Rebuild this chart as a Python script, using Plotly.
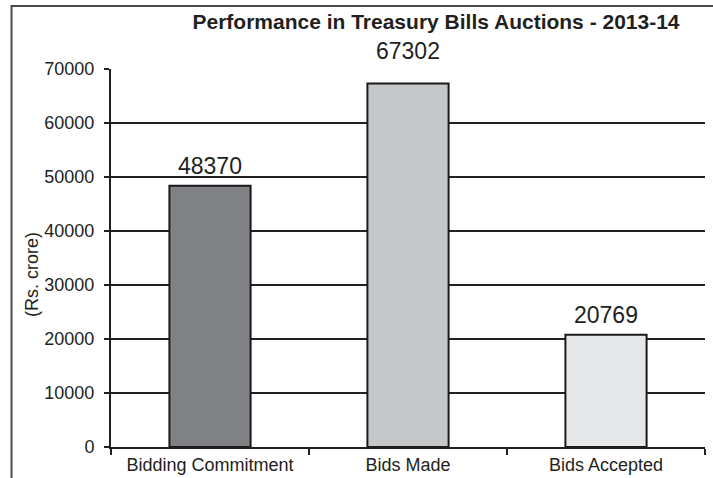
import plotly.graph_objects as go

categories = ["Bidding Commitment", "Bids Made", "Bids Accepted"]
values = [48370, 67302, 20769]
bar_colors = ["#808184", "#c6c7c9", "#e6e7e8"]
y_ticks = [0, 10000, 20000, 30000, 40000, 50000, 60000, 70000]
title_text = "Performance in Treasury Bills Auctions - 2013-14"
y_title = "(Rs. crore)"
label_shifts = [5, 18, 5]

FONT = "Liberation Sans, Arial, sans-serif"

W, H = 713, 478
L, R, T, B = 111, 705, 69, 447  # plot box in page px
PW, PH = R - L, B - T

def px_x(x):
    return (x - L) / PW

def px_y(y):
    return (B - y) / PH

fig = go.Figure()
fig.add_trace(go.Bar(
    x=categories, y=values,
    marker=dict(color=bar_colors, line=dict(color="#1a1a1a", width=2)),
    width=0.41,
    hoverinfo="x+y",
))

for c, v, s in zip(categories, values, label_shifts):
    fig.add_annotation(x=c, y=v, text=str(v), showarrow=False,
                       yanchor="bottom", yshift=s,
                       font=dict(family=FONT, size=23, color="#231f20"))

fig.add_annotation(xref="paper", yref="paper", x=px_x(32), y=px_y(275),
                   xanchor="center", yanchor="middle",
                   text=y_title, textangle=-90, showarrow=False,
                   font=dict(family=FONT, size=18, color="#231f20"))

# outer frame: left and top edges (cut off at right and bottom like reference)
frame_line = dict(color="#4a4a4a", width=2)
fig.add_shape(type="line", xref="paper", yref="paper",
              x0=px_x(11), y0=px_y(6), x1=px_x(713), y1=px_y(6),
              line=frame_line, layer="above")
fig.add_shape(type="line", xref="paper", yref="paper",
              x0=px_x(11.5), y0=px_y(5), x1=px_x(11.5), y1=px_y(478),
              line=frame_line, layer="above")

fig.update_layout(
    width=W, height=H,
    margin=dict(l=L, r=W - R, t=T, b=H - B, autoexpand=False),
    paper_bgcolor="white", plot_bgcolor="white",
    showlegend=False,
    title=dict(text="<b>" + title_text + "</b>", xref="container", yref="container",
               x=436 / W, y=1 - 22 / H, xanchor="center", yanchor="middle",
               font=dict(family=FONT, size=21, color="#231f20")),
    font=dict(family=FONT, color="#231f20"),
)
fig.update_xaxes(
    type="category", showline=True, linecolor="#231f20", linewidth=2,
    ticks="outside", tickson="boundaries", ticklen=6, tickwidth=2, tickcolor="#231f20",
    tickfont=dict(family=FONT, size=18, color="#231f20"),
    showgrid=False, zeroline=False,
)
fig.update_yaxes(
    range=[0, 70000], tickvals=y_ticks, ticktext=[str(t) for t in y_ticks],
    showline=True, linecolor="#231f20", linewidth=2,
    ticks="outside", ticklen=5, tickwidth=2, tickcolor="#231f20",
    ticklabelstandoff=6,
    tickfont=dict(family=FONT, size=18, color="#231f20"),
    showgrid=True, gridcolor="#231f20", gridwidth=2, zeroline=False,
)

fig.write_html(
    "out.html",
    config={"displayModeBar": False},
    post_script="document.body.style.margin='0';document.body.style.overflow='hidden';",
)
